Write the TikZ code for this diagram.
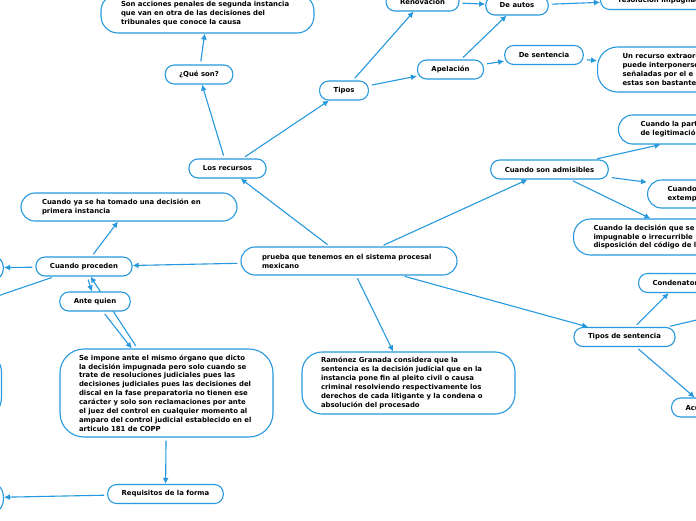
\documentclass[tikz,border=0pt]{standalone}
\usepackage{fontspec}
\setsansfont{DejaVu Sans}
\usepackage{tikz}
\usetikzlibrary{positioning,arrows.meta,backgrounds}
\definecolor{mapblue}{RGB}{38,152,222}

\begin{document}
\begin{tikzpicture}[
        x=1pt, y=-1pt,
        every node/.style={font=\sffamily\bfseries\fontsize{6.9}{8.9}\selectfont, text=black},
        idea/.style={rectangle, draw=mapblue, line width=1.1pt, fill=white, rounded corners=9pt, minimum height=19pt, inner xsep=14pt, inner ysep=2pt},
        nota/.style={rectangle, draw=mapblue, line width=1.1pt, fill=white, rounded corners=14pt, align=left, inner xsep=20pt, inner ysep=3pt},
        hueco/.style={rectangle, draw=mapblue, line width=1.1pt, fill=white, rounded corners=12pt},
        conn/.style={-{Latex[length=6pt,width=6pt]}, draw=mapblue, line width=1.1pt, shorten <=3pt}
        ]
    \useasboundingbox (0,0) rectangle (696,520);

    % Centro
    \node[nota, text width=174pt, inner xsep=21pt, minimum height=28pt] (prueba) at (349,261) {prueba que tenemos en el sistema procesal\\mexicano};

    % Los recursos (arriba)
    \node[idea] (recursos) at (227.5,168.5) {Los recursos};
    \node[idea] (queson) at (199,74.5) {¿Qué son?};
    \node[nota, text width=173pt, minimum height=39pt, rounded corners=17pt] (acciones) at (207.5,13.5) {Son acciones penales de segunda instancia\\que van en otra de las decisiones del\\tribunales que conoce la causa};
    \node[idea] (tipos) at (344,90.5) {Tipos};
    \node[idea] (renov) at (422.5,1.5) {Renovación};
    \node[idea] (autos) at (517,5.5) {De autos};
    \node[idea, anchor=west, inner xsep=18pt] (impugnada) at (600,0) {resolución impugnada};
    \node[idea] (apelacion) at (450.5,69.5) {Apelación};
    \node[idea] (desentencia) at (544,55) {De sentencia};
    \node[nota, anchor=west, text width=108pt, inner xsep=25pt, minimum height=45pt, rounded corners=20pt] (extra) at (597,69.5) {Un recurso extraordinario\\puede interponerse\\señaladas por el  e\\estas son bastante};

    % Admisibilidad (derecha)
    \node[idea] (admisibles) at (549.5,169.5) {Cuando son admisibles};
    \node[nota, anchor=west, text width=174pt, inner xsep=22pt, minimum height=29pt] (legit) at (618,129.5) {Cuando la parte\\de legitimación};
    \node[nota, anchor=west, text width=140pt, minimum height=28pt] (extemp) at (647,194) {Cuando\\extemporáneo};
    \node[nota, anchor=west, text width=190pt, minimum height=36pt, rounded corners=17pt] (decision) at (573,237) {Cuando la decisión que se\\impugnable o irrecurrible\\disposición del código de la};

    % Sentencia (abajo derecha)
    \node[nota, text width=175pt, inner xsep=19pt, minimum height=62pt, rounded corners=20pt] (ramonez) at (408.5,383) {Ramónez Granada considera que la\\sentencia es la decisión judicial que en la\\instancia pone fin al pleito civil o causa\\criminal resolviendo respectivamente los\\derechos de cada litigante y la condena o\\absolución del procesado};
    \node[idea] (tiposent) at (624.5,337) {Tipos de sentencia};
    \node[idea, anchor=west] (condena) at (638,283) {Condenatoria};
    \node[idea, anchor=west] (acu) at (671,407.5) {Acusatoria};
    \coordinate (offright) at (760,305);

    % Cuando proceden (izquierda)
    \node[idea] (proceden) at (84,266.5) {Cuando proceden};
    \node[nota, text width=174pt, inner xsep=21pt, minimum height=28pt] (yatomado) at (129,207) {Cuando ya se ha tomado una decisión en\\primera instancia};
    \node[hueco, anchor=east, minimum width=60pt, minimum height=25pt] (izqa) at (4,268) {};
    \node[hueco, anchor=east, minimum width=100pt, minimum height=66pt, rounded corners=20pt] (izqb) at (2,385) {};
    \coordinate (offleft) at (-80,322.5);
    \node[idea] (antequien) at (95,301.5) {Ante quien};
    \node[nota, text width=175pt, inner xsep=19pt, minimum height=88pt, rounded corners=24pt] (seimpone) at (166.5,393) {Se impone ante el mismo órgano que dicto\\la decisión impugnada pero solo cuando se\\trate de resoluciones judiciales pues las\\decisiones judiciales pues las decisiones del\\discal en la fase preparatoria no tienen ese\\carácter y solo son reclamaciones por ante\\el juez del control en cualquier  momento al\\amparo del control judicial establecido en el\\articulo 181 de COPP};
    \node[idea] (requisitos) at (165.5,494) {Requisitos de la forma};
    \node[hueco, anchor=east, minimum width=80pt, minimum height=34pt, rounded corners=16pt] (izqc) at (4,498) {};

    % Conexiones
    \begin{scope}[on background layer]
        \draw[conn] (prueba) -- (recursos);
        \draw[conn] (recursos) -- (queson);
        \draw[conn] (queson) -- (acciones);
        \draw[conn] (recursos) -- (tipos);
        \draw[conn] (tipos) -- (renov);
        \draw[conn] (tipos) -- (apelacion);
        \draw[conn] (renov) -- (autos);
        \draw[conn] (apelacion) -- (autos);
        \draw[conn] (autos) -- (impugnada);
        \draw[conn] (apelacion) -- (desentencia);
        \draw[conn] (desentencia) -- (extra);

        \draw[conn] (prueba) -- (admisibles);
        \draw[conn] (admisibles) -- (legit);
        \draw[conn] (admisibles) -- (extemp);
        \draw[conn] (admisibles) -- (decision);

        \draw[conn] (prueba) -- (ramonez);
        \draw[conn] (prueba) -- (tiposent);
        \draw[conn] (tiposent) -- (condena);
        \draw[conn] (tiposent) -- (offright);
        \draw[conn] (tiposent) -- (acu);

        \draw[conn] (prueba) -- (proceden);
        \draw[conn] (proceden) -- (yatomado);
        \draw[conn] (proceden) -- (izqa);
        \draw[conn] (proceden) -- (offleft);
        \draw[conn] (proceden) -- (antequien);
        \draw[conn] (antequien) -- (seimpone);
        \draw[conn] (seimpone) -- (proceden);
        \draw[conn] (seimpone) -- (requisitos);
        \draw[conn] (requisitos) -- (izqc);
    \end{scope}

\end{tikzpicture}
\end{document}
